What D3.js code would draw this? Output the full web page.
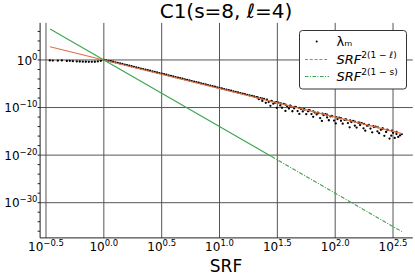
<!DOCTYPE html>
<html><head><meta charset="utf-8">
<script src="https://cdn.jsdelivr.net/npm/d3@7/dist/d3.min.js"></script>
<style>body{margin:0;background:#fff}svg{display:block;font-family:"DejaVu Sans",sans-serif}</style>
</head><body><svg id="c" width="415" height="277"></svg>
<script>
// ---- data (log10 exponents) ----
const srfExp = [-0.467,-0.441,-0.398,-0.363,-0.32,-0.294,-0.268,-0.234,-0.208,-0.182,-0.156,-0.13,-0.104,-0.078,-0.052,-0.026,0,
 0.02,0.04,0.06,0.08,0.10,0.12,0.14,0.16,0.18,0.20,0.22,0.24,0.26,0.28,0.30,0.32,0.34,0.36,0.38,0.40,0.42,0.44,0.46,0.48,0.50,0.52,0.54,0.56,0.58,0.60,0.62,0.64,0.66,0.68,0.70,0.72,0.74,0.76,0.78,0.80,0.82,0.84,0.86,0.88,0.90,0.92,0.94,0.96,0.98,1.00,1.02,1.04,1.06,1.08,1.10,1.12,1.14,1.16,1.18,1.20,1.22,1.24,1.26,1.28,1.30,
 1.32,1.34,1.355,1.37,1.385,1.40,1.41,1.425,1.44,1.45,1.465,1.48,1.495,1.51,1.525,1.54,1.555,1.57,1.585,1.60,1.615,1.63,1.645,1.66,1.675,1.69,1.705,1.72,1.735,1.75,1.765,1.78,1.795,1.81,1.825,1.84,1.855,1.87,1.885,1.90,1.915,1.93,1.945,1.96,1.975,1.99,2.005,2.02,2.035,2.05,2.065,2.08,2.095,2.11,2.125,2.14,2.155,2.17,2.185,2.20,2.215,2.23,2.245,2.26,2.275,2.29,2.305,2.32,2.335,2.35,2.365,2.38,2.395,2.41,2.425,2.44,2.455,2.47,2.485,2.50,2.515,2.53,2.545,2.56,2.575,
 1.33,1.37,1.41,1.45,1.49,1.53,1.57,1.61,1.65,1.69,1.73,1.77,1.81,1.85,1.89,1.93,1.97,2.01,2.05,2.09,2.13,2.17,2.21,2.25,2.29,2.33,2.37,2.41,2.45,2.49,2.53];
const lambdaExp = [-0.1,-0.12,-0.15,-0.1,-0.2,-0.18,-0.25,-0.3,-0.32,-0.35,-0.38,-0.4,-0.4,-0.38,-0.3,-0.18,0,
 -0.08,-0.18,-0.27,-0.38,-0.49,-0.60,-0.72,-0.84,-0.96,-1.08,-1.20,-1.32,-1.44,-1.56,-1.68,-1.80,-1.92,-2.03,-2.15,-2.27,-2.39,-2.51,-2.63,-2.75,-2.87,-2.99,-3.11,-3.23,-3.35,-3.47,-3.59,-3.71,-3.83,-3.95,-4.07,-4.19,-4.31,-4.43,-4.55,-4.67,-4.79,-4.91,-5.03,-5.15,-5.27,-5.39,-5.51,-5.63,-5.75,-5.87,-5.99,-6.11,-6.23,-6.35,-6.47,-6.59,-6.71,-6.84,-6.96,-7.08,-7.19,-7.32,-7.43,-7.56,-7.68,
 -7.82,-8.24,-8.03,-8.62,-8.21,-9.0,-8.36,-8.85,-9.64,-8.6,-9.19,-8.98,-10.07,-8.96,-9.55,-10.04,-9.23,-10.72,-9.71,-10.2,-9.64,-10.78,-10.17,-9.86,-10.75,-11.34,-10.33,-10.82,-10.41,-11.4,-10.79,-10.58,-11.37,-11.96,-11.05,-11.44,-11.18,-12.22,-12.81,-11.6,-11.39,-12.08,-12.67,-11.86,-11.85,-12.74,-13.33,-12.42,-12.11,-12.8,-13.39,-12.58,-12.52,-13.26,-14.15,-13.04,-12.83,-13.82,-14.21,-13.2,-13.69,-13.28,-14.37,-14.86,-13.85,-13.74,-14.43,-15.22,-14.11,-14.0,-14.99,-15.38,-14.67,-14.46,-15.95,-15.14,-14.73,-16.52,-15.91,-15.3,-16.39,-15.58,-16.17,-15.86,-15.6,
 -7.88,-8.15,-8.40,-8.66,-8.88,-9.15,-9.37,-9.60,-9.86,-10.08,-10.33,-10.56,-10.80,-11.06,-11.27,-11.52,-11.76,-12.00,-12.25,-12.47,-12.72,-12.95,-13.20,-13.44,-13.67,-13.92,-14.15,-14.40,-14.63,-14.88,-15.12];
const lineSrfExp = [-0.465, 2.58];
const redExp = [2.79, -15.48];      // SRF^(2(1-ℓ))
const greenExp = [6.51, -36.12];    // SRF^(2(1-s))
const greenSolidUntil = 1.45;       // where the dash-dot pattern becomes visible
const xTickExp = [-0.5,0,0.5,1,1.5,2,2.5];
const xTickLabels = ["−0.5","0.0","0.5","1.0","1.5","2.0","2.5"];
const yTickExp = [0,-10,-20,-30];
const yTickLabels = ["0","−10","−20","−30"];
const title = "C1(s=8, ℓ=4)";
const xLabel = "SRF";

const p = v => Math.pow(10, v);
const svg = d3.select("#c");
const L = 40.1, R = 412.8, T = 22.9, B = 237.9;
const x = d3.scaleLog().domain([p(-0.551), p(2.671)]).range([L, R]);
const y = d3.scaleLog().domain([p(7.79), p(-37.4)]).range([T, B]);

// grid
const g = svg.append("g");
xTickExp.forEach(e => g.append("line").attr("x1", x(p(e))).attr("x2", x(p(e))).attr("y1", T).attr("y2", B).attr("stroke", "#555").attr("stroke-width", 1));
yTickExp.forEach(e => g.append("line").attr("x1", L).attr("x2", R).attr("y1", y(p(e))).attr("y2", y(p(e))).attr("stroke", "#555").attr("stroke-width", 1));

// spines
svg.append("line").attr("x1", L).attr("x2", L).attr("y1", T).attr("y2", B).attr("stroke", "#222").attr("stroke-width", 1);
svg.append("line").attr("x1", L).attr("x2", R).attr("y1", B).attr("y2", B).attr("stroke", "#222").attr("stroke-width", 1);
// minor y ticks
d3.range(-36, 8, 2).forEach(e => svg.append("line").attr("x1", L - 2.5).attr("x2", L).attr("y1", y(p(e))).attr("y2", y(p(e))).attr("stroke", "#222").attr("stroke-width", 1));

// tick labels
xTickExp.forEach((e, i) => {
  const t = svg.append("text").attr("x", x(p(e))).attr("y", 250.5).attr("text-anchor", "middle").attr("font-size", 12).attr("fill", "#000");
  t.append("tspan").text("10");
  t.append("tspan").attr("dy", -5).attr("font-size", 8.5).text(xTickLabels[i]);
});
yTickExp.forEach((e, i) => {
  const t = svg.append("text").attr("x", 37.5).attr("y", y(p(e)) + 4.8).attr("text-anchor", "end").attr("font-size", 12).attr("fill", "#000");
  t.append("tspan").text("10");
  t.append("tspan").attr("dy", -5).attr("font-size", 8.5).text(yTickLabels[i]);
});

// data points
const pts = srfExp.map((e, i) => [p(e), p(lambdaExp[i])]);
svg.append("g").selectAll("circle").data(pts).join("circle")
  .attr("cx", d => x(d[0])).attr("cy", d => y(d[1])).attr("r", 1.15).attr("fill", "#000");

// reference lines
const line = d3.line().x(d => x(d[0])).y(d => y(d[1]));
const redPts = lineSrfExp.map((e, i) => [p(e), p(redExp[i])]);
svg.append("path").attr("d", line(redPts)).attr("fill", "none").attr("stroke", "#e26f46").attr("stroke-width", 1.1);
const gSlope = (greenExp[1] - greenExp[0]) / (lineSrfExp[1] - lineSrfExp[0]);
const gMid = greenExp[0] + gSlope * (greenSolidUntil - lineSrfExp[0]);
svg.append("path").attr("d", line([[p(lineSrfExp[0]), p(greenExp[0])], [p(greenSolidUntil), p(gMid)]]))
  .attr("fill", "none").attr("stroke", "#3da44d").attr("stroke-width", 1.1);
svg.append("path").attr("d", line([[p(greenSolidUntil), p(gMid)], [p(lineSrfExp[1]), p(greenExp[1])]]))
  .attr("fill", "none").attr("stroke", "#3da44d").attr("stroke-width", 1.1).attr("stroke-dasharray", "4,1.5,1,1.5");

// title and label
svg.append("text").attr("x", 226).attr("y", 17.5).attr("text-anchor", "middle").attr("font-size", 20).text(title);
svg.append("text").attr("x", 226).attr("y", 271.5).attr("text-anchor", "middle").attr("font-size", 17).text(xLabel);

// legend
const lg = svg.append("g");
lg.append("rect").attr("x", 299.5).attr("y", 30.5).attr("width", 107).attr("height", 58.5).attr("rx", 3)
  .attr("fill", "#fff").attr("stroke", "#333").attr("stroke-width", 1);
lg.append("circle").attr("cx", 316.7).attr("cy", 41.5).attr("r", 1).attr("fill", "#000");
lg.append("text").attr("x", 336.5).attr("y", 45.5).attr("font-size", 13).text("λₘ");
lg.append("line").attr("x1", 305).attr("x2", 329).attr("y1", 59.5).attr("y2", 59.5).attr("stroke", "#e26f46").attr("stroke-width", 1).attr("stroke-dasharray", "3,1.8");
const t2 = lg.append("text").attr("x", 336.5).attr("y", 63.5).attr("font-size", 13);
t2.append("tspan").attr("font-style", "italic").text("SRF");
t2.append("tspan").attr("dy", -6).attr("font-size", 9).text("2(1 − ℓ)");
lg.append("line").attr("x1", 305).attr("x2", 329).attr("y1", 76.5).attr("y2", 76.5).attr("stroke", "#3da44d").attr("stroke-width", 1).attr("stroke-dasharray", "3.5,1.5,1,1.5");
const t3 = lg.append("text").attr("x", 336.5).attr("y", 81).attr("font-size", 13);
t3.append("tspan").attr("font-style", "italic").text("SRF");
t3.append("tspan").attr("dy", -6).attr("font-size", 9).text("2(1 − s)");
</script></body></html>
